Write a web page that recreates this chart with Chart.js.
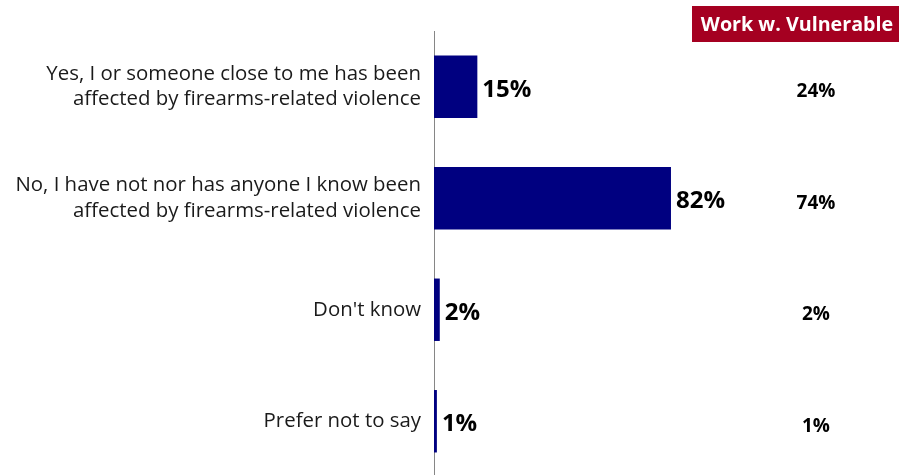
<!DOCTYPE html>
<html>
<head>
<meta charset="utf-8">
<script src="https://cdn.jsdelivr.net/npm/chart.js@4"></script>
<style>
  html, body { margin: 0; padding: 0; background: #fff; overflow: hidden; }
  canvas { display: block; }
</style>
</head>
<body>
<canvas id="chart" width="899" height="477"></canvas>
<script>
// Answer options (multi-line labels as arrays)
const categories = [
  ['Yes, I or someone close to me has been', 'affected by firearms-related violence'],
  ['No, I have not nor has anyone I know been', 'affected by firearms-related violence'],
  "Don't know",
  'Prefer not to say'
];
const totalValues = [15, 82, 2, 1];
const vulnerableValues = [24, 74, 2, 1];
const vulnerableHeader = 'Work w. Vulnerable';

const FONT = "'Open Sans', sans-serif";

// Bold % labels beside bars plus the subgroup column on the right
const valueLabels = {
  id: 'valueLabels',
  afterDatasetsDraw(chart) {
    const ctx = chart.ctx;
    const meta = chart.getDatasetMeta(0);
    const area = chart.chartArea;
    ctx.save();
    ctx.fillStyle = '#000';
    ctx.textBaseline = 'middle';

    ctx.font = 'bold 24px ' + FONT;
    ctx.textAlign = 'left';
    meta.data.forEach((bar, i) => {
      ctx.fillText(totalValues[i] + '%', bar.x + 5, bar.y + 3);
    });

    // subgroup column
    const colX = area.right + 93;
    ctx.font = 'bold 19px ' + FONT;
    ctx.textAlign = 'center';
    meta.data.forEach((bar, i) => {
      ctx.fillText(vulnerableValues[i] + '%', colX, bar.y + 5);
    });

    // header box
    ctx.fillStyle = '#A50021';
    ctx.fillRect(692, 6, 207, 36);
    ctx.fillStyle = '#fff';
    ctx.font = 'bold 19.7px ' + FONT;
    ctx.fillText(vulnerableHeader, 797, 25);
    ctx.restore();
  }
};

new Chart(document.getElementById('chart'), {
  type: 'bar',
  data: {
    labels: categories,
    datasets: [{
      data: totalValues,
      backgroundColor: '#000080',
      barPercentage: 0.56,
      categoryPercentage: 1
    }]
  },
  options: {
    indexAxis: 'y',
    responsive: false,
    animation: false,
    layout: { padding: { top: 31, right: 176, bottom: 0, left: 0 } },
    plugins: {
      legend: { display: false },
      tooltip: { enabled: false }
    },
    scales: {
      x: {
        min: 0,
        max: 100,
        display: false
      },
      y: {
        grid: { display: false, drawTicks: false },
        border: { display: true, color: '#868686', width: 1 },
        ticks: {
          color: '#1a1a1a',
          padding: 13,
          font: { family: FONT, size: 20.4, lineHeight: 1.25 }
        },
        afterFit(scale) {
          scale.width = 434;
          // let the plot run the full height; the two-line labels would otherwise pad it
          scale.paddingTop = 0;
          scale.paddingBottom = 0;
        }
      }
    }
  },
  plugins: [valueLabels]
});
</script>
</body>
</html>
